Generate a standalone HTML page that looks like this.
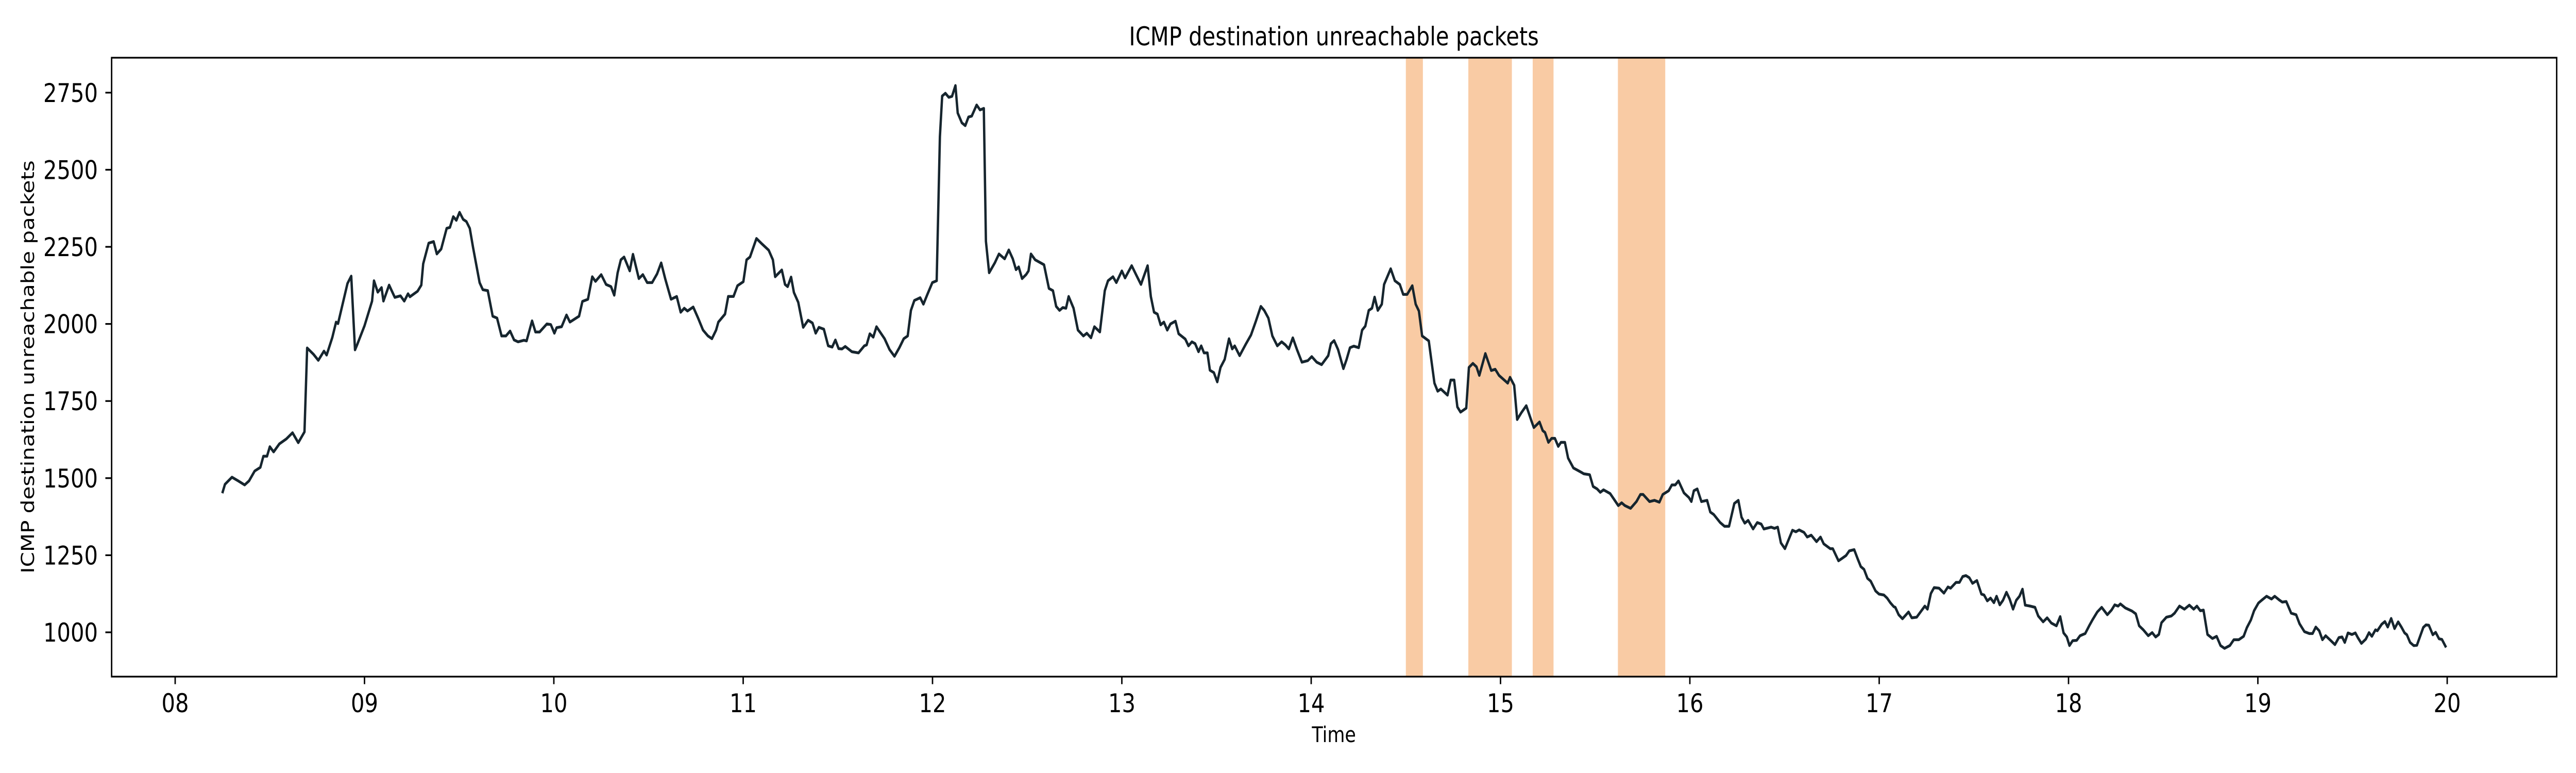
<!DOCTYPE html>
<html><head><meta charset="utf-8"><style>
html,body{margin:0;padding:0;background:#fff;overflow:hidden;width:100%;height:100%;}
svg{display:block;position:fixed;left:0;top:0;width:100%;height:100%;font-family:"DejaVu Sans","Liberation Sans",sans-serif;}
</style></head><body>
<svg id="chart" viewBox="0 0 6000 1500" preserveAspectRatio="none" xmlns="http://www.w3.org/2000/svg">
<rect x="0" y="0" width="6000" height="1500" fill="#fff"/>
<g id="spans"></g>
<g id="series"></g>
<rect x="260" y="112" width="5695" height="1201" fill="none" stroke="#000" stroke-width="3.3"/>
<g id="xaxis"></g>
<g id="yaxis"></g>
<text x="3107" y="88" font-size="50" text-anchor="middle">ICMP destination unreachable packets</text>
<text x="3107" y="1440" font-size="42" text-anchor="middle">Time</text>
<text x="0" y="0" font-size="42" text-anchor="middle" transform="translate(79,712) rotate(-90)">ICMP destination unreachable packets</text>
</svg>
<script>
const xTicks = [8,9,10,11,12,13,14,15,16,17,18,19,20];
const xTickLabels = ["08","09","10","11","12","13","14","15","16","17","18","19","20"];
const yTicks = [1000,1250,1500,1750,2000,2250,2500,2750];
const yTickLabels = ["1000","1250","1500","1750","2000","2250","2500","2750"];
const spanStarts = [14.50,14.83,15.17,15.62];
const spanEnds = [14.59,15.06,15.28,15.87];
const times = [8.249,8.263,8.30,8.333,8.367,8.39,8.42,8.45,8.466,8.485,8.50,8.52,8.55,8.587,8.62,8.65,8.683,8.697,8.73,8.756,8.786,8.80,8.83,8.85,8.86,8.91,8.93,8.95,8.96,9.00,9.04,9.05,9.07,9.09,9.10,9.13,9.16,9.19,9.21,9.23,9.24,9.28,9.30,9.31,
9.339,9.365,9.382,9.405,9.434,9.451,9.469,9.485,9.502,9.521,9.538,9.556,9.573,9.608,9.625,9.651,9.677,9.70,9.724,9.747,9.769,9.79,9.811,9.842,9.856,9.885,9.903,9.925,9.963,9.984,10.003,10.015,10.041,10.067,10.085,10.133,10.151,10.18,10.203,10.22,10.25,10.276,10.302,10.319,10.337,10.354,10.371,10.401,10.418,10.449,10.47,10.493,10.519,10.545,10.567,10.588,10.619,10.649,10.67,10.689,10.706,10.736,10.762,10.788,10.814,10.835,10.857,10.869,10.904,10.921,10.949,10.97,11.001,11.018,11.036,11.07,11.10,11.135,11.157,11.169,11.204,11.221,11.235,11.253,11.268,11.291,11.317,11.343,11.366,
11.383,11.40,11.426,11.449,11.47,11.487,11.504,11.522,11.539,11.574,11.609,11.64,11.652,11.669,11.687,11.704,11.747,11.773,11.799,11.825,11.848,11.869,11.886,11.904,11.935,11.952,11.973,11.999,12.022,12.039,12.051,12.068,12.086,12.103,12.121,12.133,12.155,12.173,12.19,12.207,12.233,12.251,12.271,12.282,12.299,12.329,12.351,12.381,12.403,12.424,12.441,12.455,12.473,12.494,12.507,12.52,12.542,12.589,12.615,12.636,12.653,12.671,12.688,12.705,12.719,12.745,12.768,12.797,12.815,12.837,12.855,12.884,12.91,12.927,12.953,12.971,13.0,13.017,13.052,13.075,13.101,13.136,13.153,13.17,13.188,13.205,13.222,13.24,13.257,13.283,13.3,13.335,13.352,13.37,13.387,13.405,13.419,13.434,13.452,13.465,13.486,13.504,13.521,13.543,13.566,13.583,13.596,13.622,13.656,13.682,13.708,13.734,13.752,13.774,13.795,13.821,13.844,13.864,13.882,13.903,13.925,13.951,13.982,14.003,14.029,14.055,14.09,
14.104,14.121,14.142,14.17,14.187,14.205,14.225,14.251,14.269,14.286,14.304,14.321,14.335,14.352,14.373,14.385,14.42,14.442,14.468,14.486,14.507,14.534,14.552,14.569,14.586,14.621,14.651,14.668,14.685,14.72,14.737,14.755,14.772,14.789,14.819,14.833,14.854,14.873,14.888,14.92,14.951,14.972,14.992,15.038,15.05,15.072,15.088,15.11,15.136,15.163,15.176,15.206,15.223,15.235,15.253,15.27,15.287,15.305,15.319,15.34,15.357,15.385,15.423,15.44,15.471,15.489,15.51,15.527,15.544,15.579,15.6,15.622,15.64,15.657,15.687,15.718,15.739,15.753,15.787,15.813,15.839,15.857,15.888,15.905,15.923,15.94,15.969,15.995,16.008,16.021,16.039,16.061,16.091,16.108,16.126,16.16,16.183,16.207,16.235,16.256,16.273,16.29,16.308,16.334,16.356,16.377,16.391,16.429,16.447,16.464,16.481,16.502,16.542,16.56,16.577,16.603,16.62,16.641,16.669,16.69,16.707,16.742,16.755,16.785,16.802,
16.825,16.842,16.868,16.886,16.903,16.92,16.938,16.955,16.981,16.999,17.025,17.042,17.059,17.077,17.085,17.103,17.123,17.155,17.172,17.198,17.241,17.255,17.273,17.29,17.316,17.342,17.363,17.377,17.406,17.424,17.441,17.458,17.476,17.493,17.516,17.54,17.554,17.571,17.588,17.606,17.62,17.637,17.654,17.672,17.689,17.707,17.724,17.741,17.757,17.771,17.797,17.823,17.84,17.866,17.887,17.909,17.936,17.956,17.974,17.991,18.005,18.022,18.043,18.061,18.088,18.109,18.126,18.152,18.175,18.205,18.227,18.244,18.262,18.274,18.3,18.335,18.355,18.373,18.395,18.421,18.442,18.46,18.477,18.491,18.517,18.543,18.56,18.586,18.612,18.638,18.661,18.678,18.696,18.713,18.734,18.76,18.782,18.803,18.824,18.852,18.873,18.899,18.925,18.942,18.963,18.98,19.003,19.02,19.046,19.072,19.089,19.115,19.129,19.15,19.176,19.202,19.22,19.246,19.272,19.289,19.306,19.324,19.341,19.358,19.384,19.407,19.428,19.445,19.459,19.476,19.497,19.515,19.528,19.547,
19.57,19.587,19.602,19.621,19.631,19.654,19.671,19.686,19.704,19.722,19.741,19.758,19.775,19.787,19.804,19.823,19.84,19.874,19.888,19.903,19.924,19.939,19.957,19.972,19.994];
const values = [1451,1480,1503,1491,1478,1491,1523,1535,1571,1571,1602,1585,1611,1627,1647,1615,1650,1922,1902,1882,1912,1899,1956,2006,2001,2131,2155,1916,1931,1994,2074,2140,2103,2118,2074,2126,2086,2091,2074,2098,2088,2106,2126,2195,
2262,2267,2227,2243,2310,2313,2348,2336,2362,2339,2332,2310,2249,2134,2111,2108,2025,2019,1961,1961,1977,1948,1942,1947,1945,2010,1974,1974,2000,1998,1970,1988,1991,2029,2006,2025,2073,2080,2153,2138,2160,2128,2121,2093,2166,2208,2217,2172,2226,2147,2160,2134,2134,2162,2198,2147,2080,2089,2038,2051,2042,2055,2019,1980,1961,1952,1980,2006,2032,2089,2089,2124,2137,2208,2217,2277,2259,2239,2208,2153,2175,2128,2121,2152,2102,2070,1989,2012,2003,
1970,1989,1983,1929,1925,1948,1920,1919,1927,1910,1906,1929,1932,1968,1957,1991,1952,1917,1895,1923,1952,1961,2044,2076,2085,2064,2096,2134,2140,2607,2739,2748,2735,2738,2773,2684,2652,2643,2671,2674,2710,2694,2699,2268,2166,2198,2227,2211,2240,2211,2176,2185,2147,2160,2172,2227,2208,2192,2115,2108,2057,2044,2053,2051,2089,2051,1980,1961,1970,1955,1991,1974,2108,2140,2153,2134,2172,2149,2189,2160,2128,2189,2089,2038,2032,1997,2006,1980,2000,2009,1968,1951,1929,1942,1936,1910,1929,1906,1906,1850,1842,1812,1859,1885,1952,1919,1929,1897,1936,1964,2009,2057,2044,2019,1961,1929,1942,1932,1919,1955,1917,1876,1881,1894,1876,1868,1897,
1936,1946,1917,1855,1885,1923,1928,1923,1980,1993,2044,2051,2087,2044,2064,2128,2179,2140,2128,2096,2096,2124,2064,2042,1961,1945,1808,1782,1789,1769,1818,1818,1731,1714,1727,1859,1872,1861,1833,1904,1849,1853,1833,1808,1827,1801,1690,1712,1735,1686,1664,1682,1654,1648,1616,1629,1629,1603,1616,1616,1565,1533,1520,1514,1511,1473,1465,1454,1462,1450,1431,1411,1420,1411,1402,1424,1447,1447,1424,1428,1422,1447,1459,1478,1478,1491,1452,1437,1424,1459,1465,1424,1428,1390,1382,1356,1344,1344,1418,1428,1373,1354,1363,1335,1356,1351,1335,1341,1337,1341,1290,1271,1331,1326,1332,1324,1309,1315,1294,1309,1287,1271,1271,1232,1239,
1249,1264,1268,1239,1213,1204,1175,1166,1134,1124,1121,1111,1096,1083,1081,1057,1044,1066,1047,1049,1085,1075,1126,1145,1143,1127,1147,1143,1162,1162,1181,1184,1177,1159,1168,1124,1121,1102,1111,1096,1117,1089,1104,1130,1108,1075,1104,1117,1140,1088,1085,1081,1053,1034,1047,1030,1021,1051,998,985,957,973,974,989,996,1021,1040,1066,1081,1057,1072,1089,1085,1092,1079,1069,1060,1021,1008,989,999,985,993,1031,1049,1053,1062,1085,1075,1088,1075,1085,1070,1072,993,980,987,957,948,957,976,976,987,1015,1040,1070,1095,1104,1117,1108,1117,1104,1098,1100,1062,1057,1028,1002,996,996,1017,1005,976,989,974,960,983,985,967,998,993,998,983,964,
978,999,987,1008,1005,1026,1035,1017,1045,1012,1034,1017,998,992,967,957,958,1016,1024,1023,992,1000,979,977,951];

const NS = "http://www.w3.org/2000/svg";
const PL = 260, PT = 112, PR = 5955, PB = 1313;
function xScale(h){ return 408 + (h - 8) * 441; }
function yScale(v){ return 1227 - (v - 1000) * (149.6 / 250); }

const spansG = document.getElementById('spans');
for (let i = 0; i < spanStarts.length; i++) {
  const r = document.createElementNS(NS, 'rect');
  
  
  r.setAttribute('x', xScale(spanStarts[i]));
  r.setAttribute('y', PT);
  r.setAttribute('width', xScale(spanEnds[i]) - xScale(spanStarts[i]));
  r.setAttribute('height', PB - PT);
  r.setAttribute('fill', '#f9cba4');
  spansG.appendChild(r);
}

const seriesG = document.getElementById('series');
let d = '';
for (let i = 0; i < times.length; i++) {
  d += (i ? 'L' : 'M') + xScale(times[i]).toFixed(1) + ',' + yScale(values[i]).toFixed(1);
}
const path = document.createElementNS(NS, 'path');


path.setAttribute('d', d);
path.setAttribute('fill', 'none');
path.setAttribute('stroke', '#16252e');
path.setAttribute('stroke-width', '5.5');
path.setAttribute('stroke-linejoin', 'round');
seriesG.appendChild(path);

const xg = document.getElementById('xaxis');
for (let i = 0; i < xTicks.length; i++) {
  const x = xScale(xTicks[i]);
  const t = document.createElementNS(NS, 'line');
  
  
  t.setAttribute('x1', x); t.setAttribute('x2', x);
  t.setAttribute('y1', PB); t.setAttribute('y2', PB + 14.6);
  t.setAttribute('stroke', '#000'); t.setAttribute('stroke-width', '3.3');
  xg.appendChild(t);
  const l = document.createElementNS(NS, 'text');
  
  
  l.setAttribute('x', x); l.setAttribute('y', 1382);
  l.setAttribute('font-size', '50'); l.setAttribute('text-anchor', 'middle');
  l.textContent = xTickLabels[i];
  xg.appendChild(l);
}
const yg = document.getElementById('yaxis');
for (let i = 0; i < yTicks.length; i++) {
  const y = yScale(yTicks[i]);
  const t = document.createElementNS(NS, 'line');
  
  
  t.setAttribute('x1', PL - 14.6); t.setAttribute('x2', PL);
  t.setAttribute('y1', y); t.setAttribute('y2', y);
  t.setAttribute('stroke', '#000'); t.setAttribute('stroke-width', '3.3');
  yg.appendChild(t);
  const l = document.createElementNS(NS, 'text');
  
  
  l.setAttribute('x', 228); l.setAttribute('y', y + 18);
  l.setAttribute('font-size', '50'); l.setAttribute('text-anchor', 'end');
  l.textContent = yTickLabels[i];
  yg.appendChild(l);
}
</script>
</body></html>
